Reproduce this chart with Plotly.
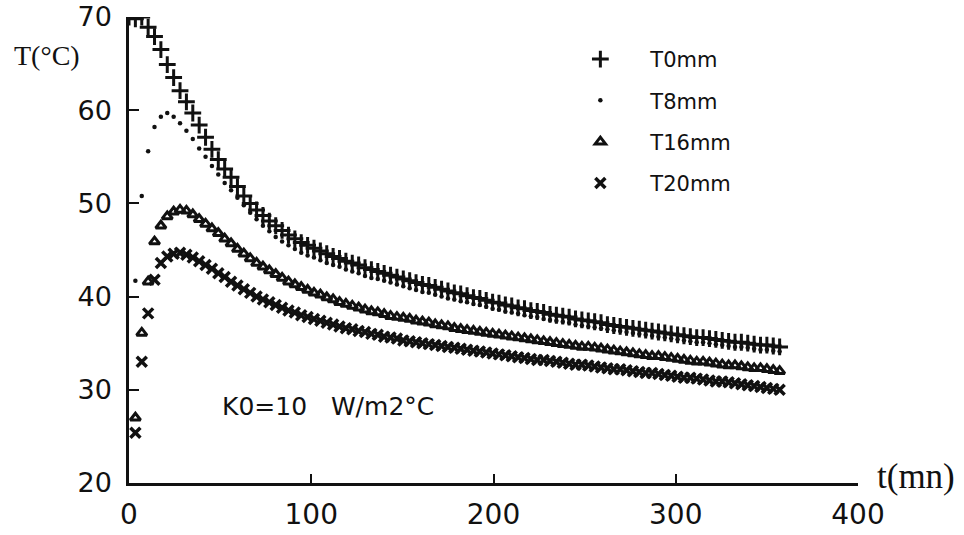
import plotly.graph_objects as go

# time (mn)
t_mn = [
    0, 3.5, 7, 10.5, 14, 17.5, 21, 24.5, 28, 31.5,
    35, 38.5, 42, 45.5, 49, 52.5, 56, 59.5, 63, 66.5,
    70, 73.5, 77, 80.5, 84, 87.5, 91, 94.5, 98, 101.5,
    105, 108.5, 112, 115.5, 119, 122.5, 126, 129.5, 133, 136.5,
    140, 143.5, 147, 150.5, 154, 157.5, 161, 164.5, 168, 171.5,
    175, 178.5, 182, 185.5, 189, 192.5, 196, 199.5, 203, 206.5,
    210, 213.5, 217, 220.5, 224, 227.5, 231, 234.5, 238, 241.5,
    245, 248.5, 252, 255.5, 259, 262.5, 266, 269.5, 273, 276.5,
    280, 283.5, 287, 290.5, 294, 297.5, 301, 304.5, 308, 311.5,
    315, 318.5, 322, 325.5, 329, 332.5, 336, 339.5, 343, 346.5,
    350, 353.5, 357,
]

T0mm = [
    70.0, 69.8, 70.0, 68.9, 67.9, 66.5, 64.9, 63.5, 62.1, 60.9,
    59.7, 58.4, 57.1, 55.8, 54.7, 53.7, 52.8, 51.8, 50.8, 50.0,
    49.3, 48.7, 48.1, 47.6, 47.1, 46.6, 46.2, 45.8, 45.5, 45.2,
    44.9, 44.6, 44.3, 44.1, 43.8, 43.6, 43.4, 43.1, 42.9, 42.7,
    42.5, 42.3, 42.1, 41.9, 41.7, 41.5, 41.3, 41.2, 41.0, 40.8,
    40.6, 40.4, 40.3, 40.1, 39.9, 39.8, 39.6, 39.4, 39.3, 39.1,
    39.0, 38.8, 38.7, 38.5, 38.4, 38.3, 38.1, 38.0, 37.9, 37.8,
    37.6, 37.5, 37.4, 37.3, 37.2, 37.0, 36.9, 36.8, 36.7, 36.6,
    36.5, 36.4, 36.3, 36.2, 36.1, 36.0, 35.9, 35.8, 35.7, 35.6,
    35.6, 35.5, 35.4, 35.3, 35.2, 35.1, 35.1, 35.0, 34.9, 34.8,
    34.8, 34.7, 34.6,
]

T8mm = [
    None, 41.7, 50.8, 55.6, 58.2, 59.3, 59.7, 59.3, 58.6, 57.8,
    56.9, 55.9, 55.0, 54.0, 53.1, 52.2, 51.4, 50.6, 49.8, 49.0,
    48.3, 47.6, 47.0, 46.4, 45.9, 45.5, 45.1, 44.7, 44.4, 44.2,
    43.9, 43.6, 43.4, 43.2, 42.9, 42.7, 42.5, 42.2, 42.0, 41.9,
    41.7, 41.5, 41.3, 41.1, 40.9, 40.7, 40.5, 40.4, 40.2, 40.0,
    39.8, 39.7, 39.5, 39.4, 39.2, 39.1, 38.9, 38.7, 38.6, 38.4,
    38.3, 38.2, 38.0, 37.9, 37.8, 37.6, 37.5, 37.4, 37.3, 37.2,
    37.0, 36.9, 36.8, 36.7, 36.6, 36.5, 36.4, 36.3, 36.2, 36.1,
    36.0, 35.9, 35.8, 35.7, 35.6, 35.5, 35.4, 35.3, 35.2, 35.1,
    35.1, 35.0, 34.9, 34.8, 34.7, 34.6, 34.6, 34.5, 34.4, 34.3,
    34.3, 34.2, 34.1,
]

T16mm = [
    None, 27.0, 36.1, 41.6, 45.9, 47.6, 48.6, 49.1, 49.3, 49.2,
    48.8, 48.3, 47.8, 47.3, 46.8, 46.2, 45.7, 45.1, 44.6, 44.1,
    43.6, 43.2, 42.8, 42.4, 42.0, 41.6, 41.3, 41.0, 40.7, 40.4,
    40.2, 39.9, 39.7, 39.4, 39.2, 39.0, 38.8, 38.6, 38.4, 38.3,
    38.1, 37.9, 37.8, 37.7, 37.6, 37.4, 37.3, 37.2, 37.0, 36.9,
    36.8, 36.6, 36.5, 36.4, 36.3, 36.2, 36.1, 36.0, 35.9, 35.8,
    35.7, 35.6, 35.5, 35.4, 35.3, 35.2, 35.1, 35.0, 34.9, 34.8,
    34.7, 34.6, 34.6, 34.5, 34.4, 34.3, 34.2, 34.1, 34.0, 33.9,
    33.8, 33.7, 33.6, 33.6, 33.5, 33.4, 33.3, 33.2, 33.1, 33.0,
    33.0, 32.9, 32.8, 32.7, 32.6, 32.6, 32.5, 32.4, 32.3, 32.3,
    32.2, 32.1, 32.0,
]

T20mm = [
    None, 25.4, 33.0, 38.2, 41.8, 43.6, 44.3, 44.6, 44.7, 44.5,
    44.2, 43.8, 43.4, 43.0, 42.5, 42.1, 41.6, 41.2, 40.8, 40.4,
    40.0, 39.7, 39.4, 39.1, 38.8, 38.5, 38.3, 38.0, 37.8, 37.6,
    37.4, 37.2, 37.0, 36.8, 36.6, 36.5, 36.3, 36.2, 36.0, 35.9,
    35.7, 35.6, 35.5, 35.3, 35.2, 35.1, 35.0, 34.9, 34.8, 34.7,
    34.6, 34.5, 34.4, 34.3, 34.2, 34.1, 34.0, 33.9, 33.8, 33.7,
    33.6, 33.5, 33.4, 33.3, 33.2, 33.2, 33.1, 33.0, 32.9, 32.8,
    32.7, 32.7, 32.6, 32.5, 32.4, 32.3, 32.2, 32.2, 32.1, 32.0,
    31.9, 31.8, 31.8, 31.7, 31.6, 31.5, 31.4, 31.3, 31.3, 31.2,
    31.1, 31.0, 30.9, 30.9, 30.8, 30.7, 30.6, 30.5, 30.4, 30.3,
    30.2, 30.1, 30.0,
]

series_names = ["T0mm", "T8mm", "T16mm", "T20mm"]
x_ticks = [0, 100, 200, 300, 400]
y_ticks = [20, 30, 40, 50, 60, 70]

SANS = "DejaVu Sans, Arial, sans-serif"
SERIF = "Liberation Serif, Times New Roman, serif"
INK = "#111111"

fig = go.Figure()
fig.add_trace(go.Scatter(
    x=t_mn, y=T0mm, mode="markers", name=series_names[0], legendgroup="a",
    marker=dict(symbol="cross-thin", size=12, color=INK, line=dict(width=3, color=INK)),
))
fig.add_trace(go.Scatter(
    x=t_mn, y=T8mm, mode="markers", name=series_names[1], legendgroup="b",
    marker=dict(symbol="circle", size=4.5, color=INK, line=dict(width=0)),
))
fig.add_trace(go.Scatter(
    x=t_mn, y=T16mm, mode="markers", name=series_names[2], legendgroup="c",
    marker=dict(symbol="triangle-up-open", size=9, color=INK, line=dict(width=3, color=INK)),
))
fig.add_trace(go.Scatter(
    x=t_mn, y=T20mm, mode="markers", name=series_names[3], legendgroup="d",
    marker=dict(symbol="x-thin", size=10, color=INK, line=dict(width=3.5, color=INK)),
))

fig.update_layout(
    width=964, height=535,
    margin=dict(l=129, r=106, t=17, b=52, autoexpand=False),
    paper_bgcolor="white", plot_bgcolor="white",
    showlegend=True,
    legend=dict(
        x=0.578, y=0.953, xanchor="left", yanchor="top",
        font=dict(family=SANS, size=21, color=INK),
        bgcolor="rgba(0,0,0,0)", borderwidth=0,
        tracegroupgap=11, itemwidth=90,
    ),
    xaxis=dict(
        range=[0, 400], tickvals=x_ticks, ticktext=[str(v) for v in x_ticks],
        showgrid=False, zeroline=False, showline=True, linecolor=INK, linewidth=2.5,
        ticks="inside", ticklen=9, tickwidth=2, tickcolor=INK,
        tickfont=dict(family=SANS, size=28, color=INK), ticklabelstandoff=5,
        mirror=False,
    ),
    yaxis=dict(
        range=[20, 70], tickvals=y_ticks, ticktext=[str(v) for v in y_ticks],
        showgrid=False, zeroline=False, showline=True, linecolor=INK, linewidth=2.5,
        ticks="inside", ticklen=10, tickwidth=2, tickcolor=INK,
        tickfont=dict(family=SANS, size=27, color=INK), ticklabelstandoff=9,
        mirror=False,
    ),
    annotations=[
        dict(text="T(°C)", xref="paper", yref="paper", x=-0.1125, y=0.918,
             xanchor="center", yanchor="middle", showarrow=False,
             font=dict(family=SERIF, size=28, color=INK)),
        dict(text="t(mn)", xref="paper", yref="paper", x=1.08, y=0.015,
             xanchor="center", yanchor="middle", showarrow=False,
             font=dict(family=SERIF, size=35, color=INK)),
        dict(text="K0=10   W/m2°C", xref="x", yref="y", x=50, y=28.2,
             xanchor="left", yanchor="middle", showarrow=False,
             font=dict(family=SANS, size=25, color=INK)),
    ],
)

fig.write_html(
    "out.html",
    config={"displayModeBar": False},
    post_script="document.body.style.margin='0';document.body.style.overflow='hidden';",
)
